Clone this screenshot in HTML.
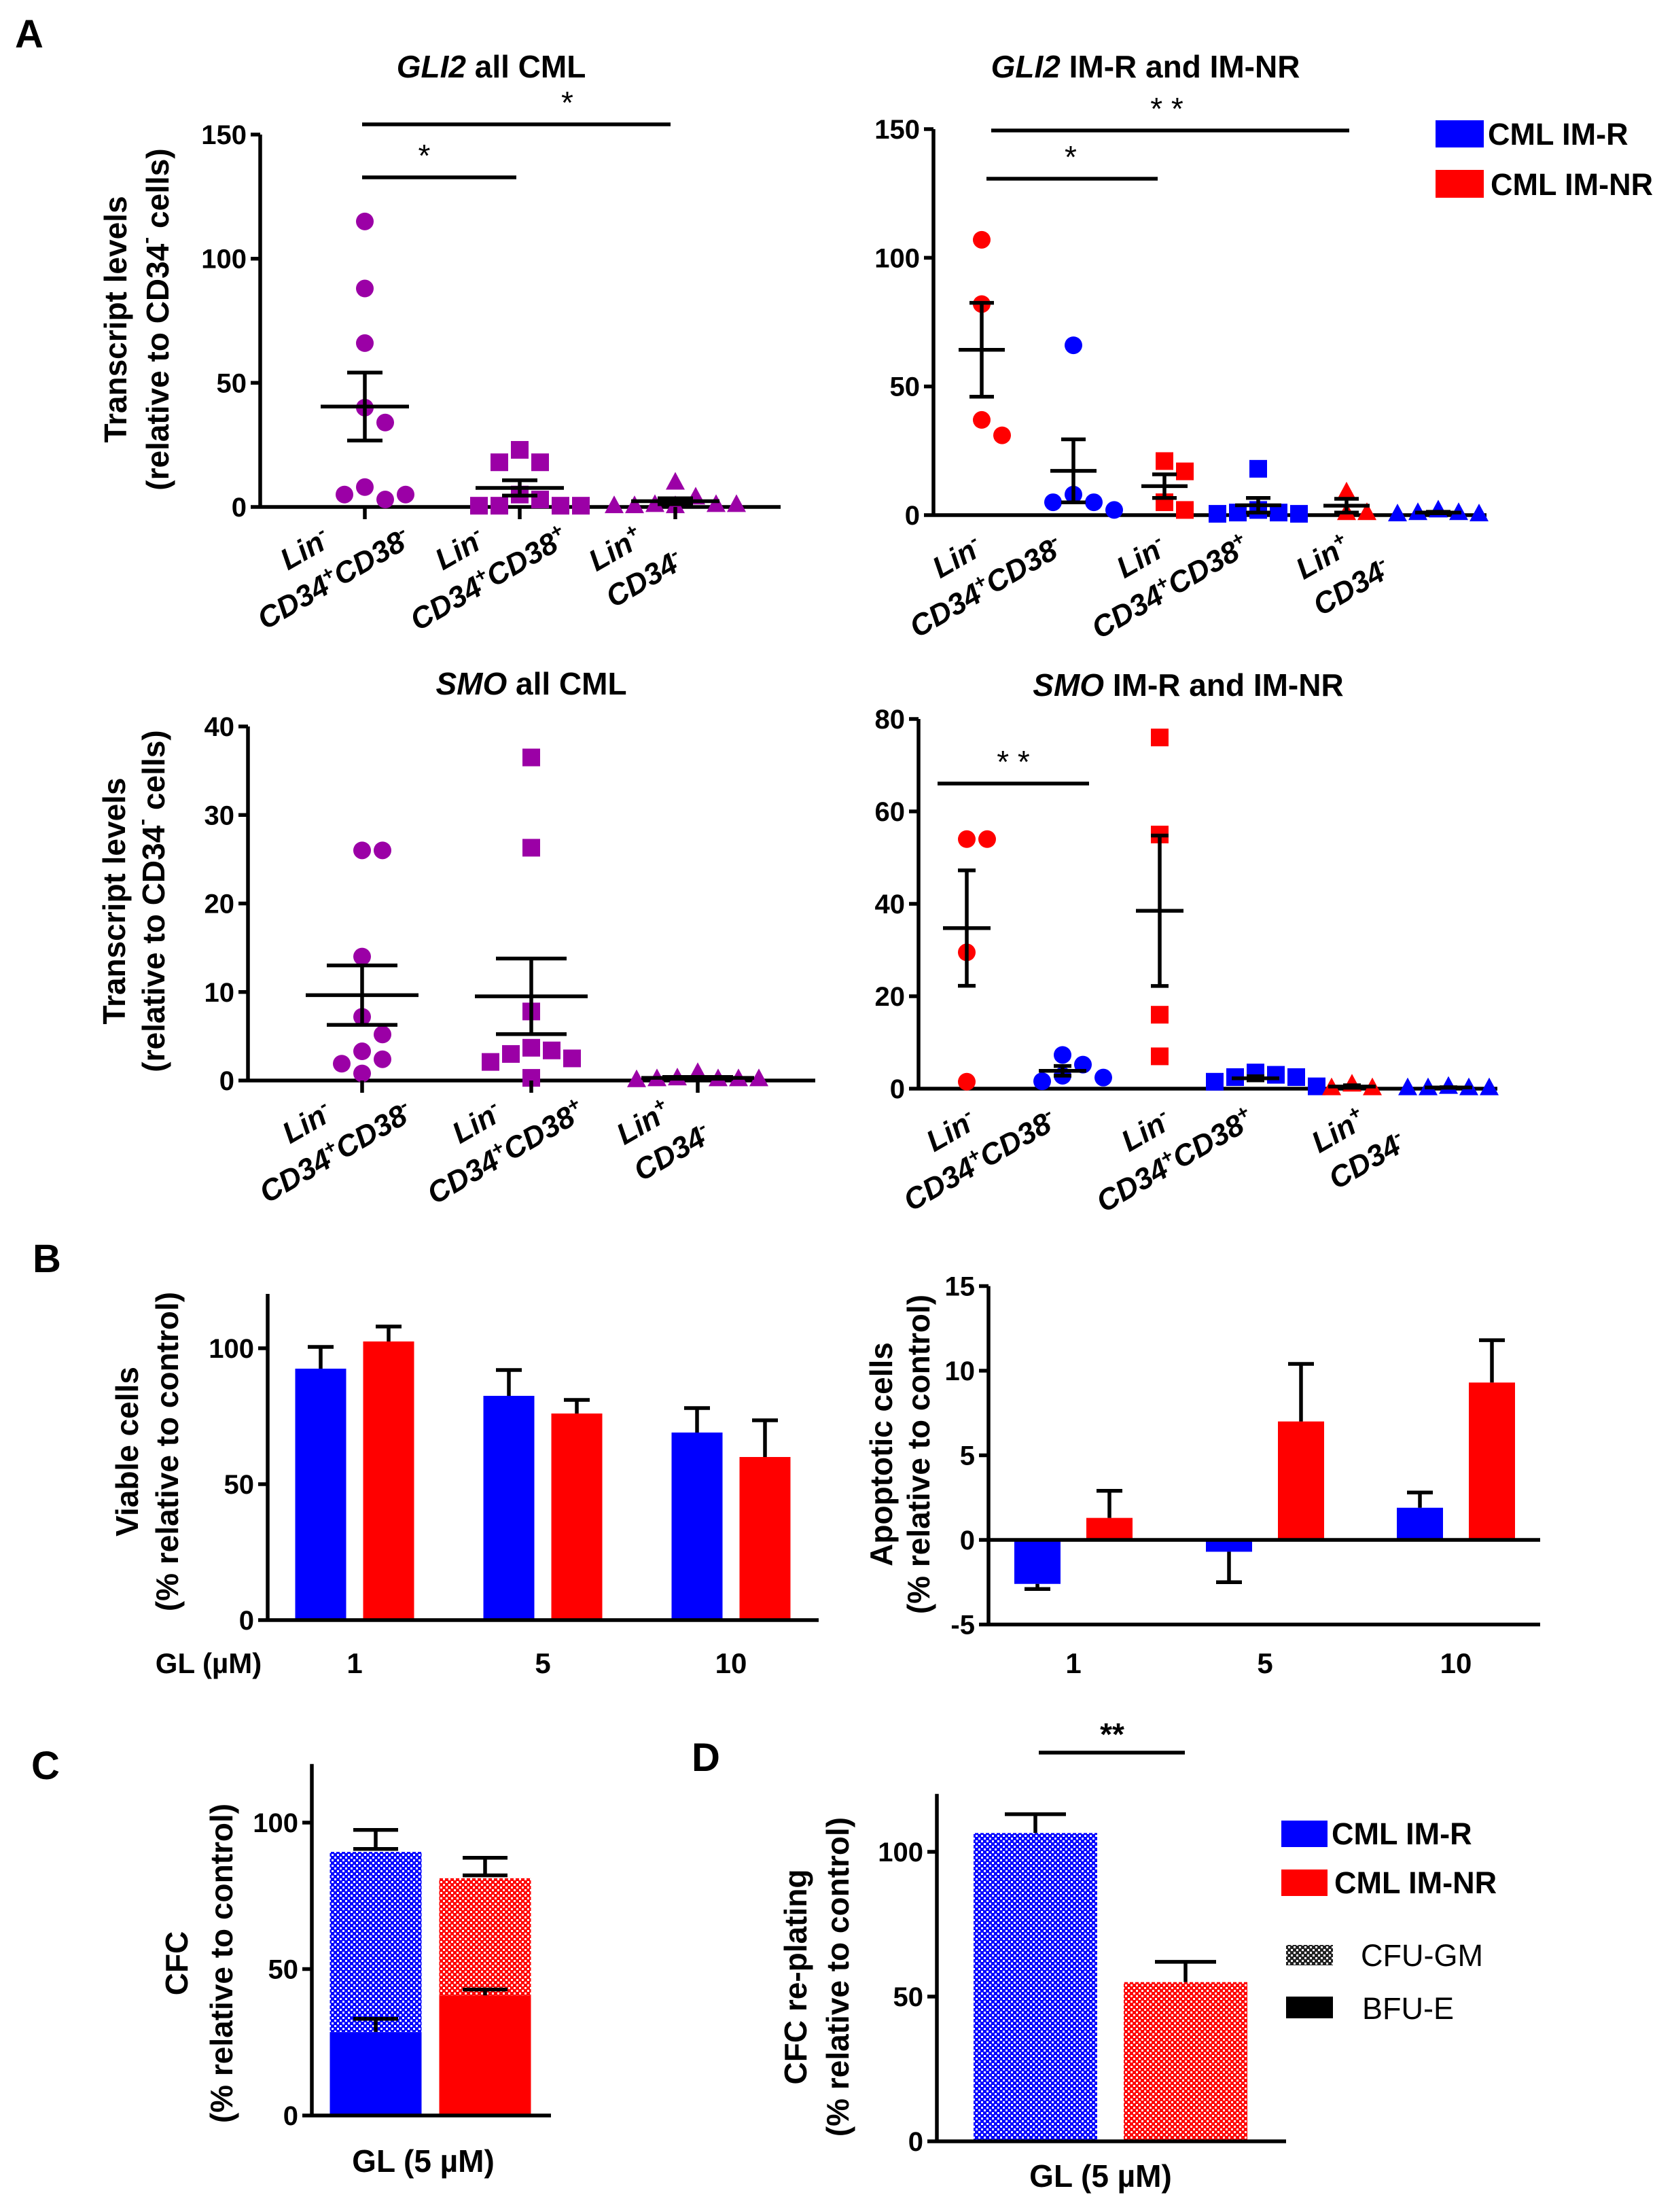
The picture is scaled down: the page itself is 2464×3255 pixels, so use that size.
<!DOCTYPE html>
<html><head><meta charset="utf-8"><title>GLI2 / SMO figure</title>
<style>
html,body{margin:0;padding:0;background:#fff;}
svg{display:block;font-family:"Liberation Sans",Arial,sans-serif;}
</style></head>
<body>
<svg id="fig" xmlns="http://www.w3.org/2000/svg" width="2464" height="3255" viewBox="0 0 2464 3255">
<defs>
<pattern id="chkBlue" width="8" height="8" patternUnits="userSpaceOnUse"><rect width="8" height="8" fill="#0000ff"/><rect width="3" height="3" fill="#fff"/><rect x="4" y="4" width="3" height="3" fill="#fff"/></pattern>
<pattern id="chkRed" width="8" height="8" patternUnits="userSpaceOnUse"><rect width="8" height="8" fill="#ff0000"/><rect width="3" height="3" fill="#fff"/><rect x="4" y="4" width="3" height="3" fill="#fff"/></pattern>
<pattern id="chkBlack" width="8" height="8" patternUnits="userSpaceOnUse"><rect width="8" height="8" fill="#222"/><rect width="3" height="3" fill="#fff"/><rect x="4" y="4" width="3" height="3" fill="#fff"/></pattern>
</defs>
</svg>
<script>
// ===== Data =====
const cats3 = ['Lin{-}|CD34{+}CD38{-}', 'Lin{-}|CD34{+}CD38{+}', 'Lin{+}|CD34{-}'];
const gli2AllValues = [[115, 88, 66, 40, 34, 8, 3, 5, 5], [23, 18, 18, 5, 3, 0.5, 0.5, 0.5, 0.5], [10, 4, 0.5, 1, 1, 0.5, 1, 0.5]];
const gli2ImValues = [[107, 82, 37, 31], [66, 8, 5, 5, 2], [21, 17, 5, 2], [18, 2, 1, 1, 0.5, 0.5], [9, 1, 1], [2, 1, 1, 0.5, 0.5]];
const smoAllValues = [[26, 26, 14, 7.2, 5.2, 3.3, 2.4, 1.9, 0.8], [36.5, 26.3, 7.8, 3.7, 3.4, 3, 2.5, 2.1, 0.3], [0.9, 0.2, 0.3, 0.2, 0.2, 0.2, 0.1]];
const smoImValues = [[54, 54, 29.5, 1.5], [7.3, 5.2, 2.8, 1.6, 2.4], [76, 55, 16, 7], [3.5, 3, 2.5, 2.5, 1.5, 0.5], [1, 0.2, 0.2], [0.5, 0.2, 0.2, 0.2, 0.2]];
const gli2Ticks = [0, 50, 100, 150];
const smoAllTicks = [0, 10, 20, 30, 40];
const smoImTicks = [0, 20, 40, 60, 80];

const doses = ['1', '5', '10'];
const viableIMR = [92.5, 82.5, 69];
const viableIMRerr = [8, 9.5, 9];
const viableIMNR = [102.5, 76, 60];
const viableIMNRerr = [5.5, 5, 13.5];
const viableTicks = [0, 50, 100];
const apopIMR = [-2.6, -0.7, 1.9];
const apopIMRerr = [0.3, 1.8, 0.9];
const apopIMNR = [1.3, 7.0, 9.3];
const apopIMNRerr = [1.6, 3.4, 2.5];
const apopTicks = [-5, 0, 5, 10, 15];

const cfcBFU = [28.5, 41];
const cfcBFUerr = [4.5, 2];
const cfcTotal = [90, 81];
const cfcTotalErr = [7.5, 7];
const cfcTicks = [0, 50, 100];
const replate = [106.5, 55];
const replateErr = [6.5, 7];
const replateTicks = [0, 50, 100];

// ===== Helpers =====
const NS = 'http://www.w3.org/2000/svg';
const svg = document.getElementById('fig');
const BLUE = '#0000ff', RED = '#ff0000', PURPLE = '#9b00a6';
const SW = 5.5;
function mk(tag, attrs, parent) {
  const e = document.createElementNS(NS, tag);
  for (const k in attrs) e.setAttribute(k, attrs[k]);
  (parent || svg).appendChild(e);
  return e;
}
function line(x1, y1, x2, y2, w, name, parent) {
  const l = mk('line', {x1: x1, y1: y1, x2: x2, y2: y2, stroke: '#000', 'stroke-width': w}, parent);
  
  
  return l;
}
function txt(x, y, s, size, opts, name, parent) {
  const o = opts || {};
  const t = mk('text', {x: x, y: y, 'font-size': size, 'font-weight': o.weight || 'bold', 'text-anchor': o.anchor || 'start', fill: '#000'}, parent);
  if (o.style) t.setAttribute('font-style', o.style);
  if (o.transform) t.setAttribute('transform', o.transform);
  if (o.baseline) t.setAttribute('dominant-baseline', o.baseline);
  
  
  addRich(t, s, size);
  return t;
}
function addRich(t, s, size) {
  const parts = s.split(/(\{[^}]*\})/);
  let sup = false;
  parts.forEach(p => {
    if (!p) return;
    const isSup = p[0] === '{';
    const ts = document.createElementNS(NS, 'tspan');
    ts.textContent = isSup ? p.slice(1, -1) : p;
    if (isSup) { ts.setAttribute('font-size', size * 0.65); ts.setAttribute('dy', -size * 0.38); sup = true; }
    else if (sup) { ts.setAttribute('dy', size * 0.38); sup = false; }
    t.appendChild(ts);
  });
}
function mean(a) { return a.reduce((s, v) => s + v, 0) / a.length; }
function sem(a) { const m = mean(a); const v = a.reduce((s, x) => s + (x - m) * (x - m), 0) / (a.length - 1); return Math.sqrt(v / a.length); }

function yAxis(p, ticks, name) {
  const g = mk('g', {});
  
  
  line(p.ax, p.y(p.axMin), p.ax, p.y(p.axMax), SW, 'y-axis-line', g);
  ticks.forEach(v => {
    line(p.ax - 14, p.y(v), p.ax, p.y(v), SW, 'y-tick', g);
    txt(p.ax - 20, p.y(v) + 14, String(v), 40, {anchor: 'end'}, 'y-tick-label', g);
  });
  return g;
}
function yTitle(x1, x2, cy, l1, l2, name) {
  txt(x1, cy, l1, 46, {anchor: 'middle', baseline: 'central', transform: 'rotate(-90 ' + x1 + ' ' + cy + ')'}, name + '-line1');
  txt(x2, cy, l2, 46, {anchor: 'middle', baseline: 'central', transform: 'rotate(-90 ' + x2 + ' ' + cy + ')'}, name + '-line2');
}
function catLabel(x, y0, label, name) {
  const g = mk('g', {transform: 'translate(' + (x - 88) + ',' + (y0 + 62) + ') rotate(-30)'});
  
  
  const ls = label.split('|');
  txt(0, 15, ls[0], 44, {anchor: 'middle', style: 'italic'}, 'category-label-line1', g);
  txt(15, 74, ls[1], 44, {anchor: 'middle', style: 'italic'}, 'category-label-line2', g);
}
function marker(shape, cx, cy, color, parent) {
  let m;
  if (shape === 'circle') m = mk('circle', {cx: cx, cy: cy, r: 13, fill: color}, parent);
  else if (shape === 'square') m = mk('rect', {x: cx - 13, y: cy - 13, width: 26, height: 26, fill: color}, parent);
  else m = mk('polygon', {points: (cx) + ',' + (cy - 15) + ' ' + (cx + 14) + ',' + (cy + 11) + ' ' + (cx - 14) + ',' + (cy + 11), fill: color}, parent);
  return m;
}
function swarm(vals, cx, y) {
  const placed = [];
  const xs = [];
  vals.forEach((v, i) => {
    const py = y(v);
    let k = 0, px = cx;
    while (true) {
      const off = k === 0 ? 0 : (k % 2 ? 1 : -1) * Math.ceil(k / 2) * 30;
      px = cx + off;
      const hit = placed.some(q => Math.hypot(q[0] - px, q[1] - py) < 28);
      if (!hit) break;
      k++;
      if (k > 12) break;
    }
    placed.push([px, py]);
    xs[i] = px;
  });
  return xs;
}
function scatterPanel(p, values, cats, name) {
  p.y = v => p.y0 - v * (p.y0 - p.yTop) / p.max;
  p.axMin = 0; p.axMax = p.max;
  const g = mk('g', {});
  
  
  yAxis(p, p.ticks, name + '-y-axis');
  line(p.ax, p.y0, p.xEnd, p.y0, SW, 'x-axis-line', g);
  values.forEach((vals, gi) => {
    const cx = p.catX[gi];
    const color = p.colors[gi];
    const shape = p.shapes[gi];
    const xs = swarm(vals, cx, p.y);
    const grp = mk('g', {}, g);
    
    
    vals.forEach((v, i) => {
      const m = marker(shape, xs[i], p.y(v), color, grp);
      
      
    });
    const m = mean(vals), s = sem(vals);
    line(cx - p.mh, p.y(m), cx + p.mh, p.y(m), SW, 'mean-line', grp);
    line(cx, p.y(m + s), cx, p.y(Math.max(0, m - s)), SW, 'sem-bar', grp);
    line(cx - p.ch, p.y(m + s), cx + p.ch, p.y(m + s), SW, 'sem-cap-upper', grp);
    if (m - s > 0) line(cx - p.ch, p.y(m - s), cx + p.ch, p.y(m - s), SW, 'sem-cap-lower', grp);
    if (p.xticks) line(cx, p.y0, cx, p.y0 + 18, SW, 'x-tick', grp);
  });
  cats.forEach((c, i) => catLabel(p.labelX[i], p.y0, c, 'category-label'));
  (p.sig || []).forEach(s => {
    line(s[0], s[2], s[1], s[2], SW, 'significance-bar', g);
    txt((s[0] + s[1]) / 2 + (s[4] || 0), s[2] - 16, s[3], 46, {anchor: 'middle', weight: 'normal'}, 'significance-stars', g);
  });
}
function italicTitle(x, y, it, rest, name) {
  const t = txt(x, y, '', 46, {anchor: 'middle'}, name);
  const a = document.createElementNS(NS, 'tspan'); a.setAttribute('font-style', 'italic'); a.textContent = it; t.appendChild(a);
  const b = document.createElementNS(NS, 'tspan'); b.textContent = rest; t.appendChild(b);
}

// ===== Panel letters =====
txt(22, 70, 'A', 58, {}, 'panel-label-a');
txt(48, 1872, 'B', 58, {}, 'panel-label-b');
txt(46, 2618, 'C', 58, {}, 'panel-label-c');
txt(1018, 2606, 'D', 58, {}, 'panel-label-d');

// ===== A: GLI2 all CML =====
italicTitle(723, 114, 'GLI2', ' all CML', 'gli2-all-title');
yTitle(170, 232, 470, 'Transcript levels', '(relative to CD34{-} cells)', 'gli2-y-title');
scatterPanel({ax: 383, y0: 746, yTop: 198, max: 150, ticks: gli2Ticks, xEnd: 1149, catX: [537, 765, 994], labelX: [537, 765, 994],
  colors: [PURPLE, PURPLE, PURPLE], shapes: ['circle', 'square', 'triangle'], mh: 65, ch: 26, xticks: true,
  sig: [[533, 987, 183, '*', 75], [533, 760, 261, '*', -22]]}, gli2AllValues, cats3, 'gli2-all-chart');

// ===== A: GLI2 IM-R and IM-NR =====
italicTitle(1686, 114, 'GLI2', ' IM-R and IM-NR', 'gli2-im-title');
scatterPanel({ax: 1374, y0: 758, yTop: 190, max: 150, ticks: gli2Ticks, xEnd: 2188, catX: [1445, 1580, 1714, 1852, 1982, 2117], labelX: [1497, 1768, 2035],
  colors: [RED, BLUE, RED, BLUE, RED, BLUE], shapes: ['circle', 'circle', 'square', 'square', 'triangle', 'triangle'], mh: 34, ch: 18,
  sig: [[1459, 1986, 192, '* *', -5], [1452, 1704, 263, '*', -2]]}, gli2ImValues, cats3, 'gli2-im-chart');
(function () {
  const g = mk('g', {});
  
  
  const r1 = mk('rect', {x: 2113, y: 177, width: 71, height: 40, fill: BLUE}, g);
  
  
  txt(2190, 213, 'CML IM-R', 45, {}, 'legend-label-im-r', g);
  const r2 = mk('rect', {x: 2113, y: 250, width: 71, height: 41, fill: RED}, g);
  
  
  txt(2194, 287, 'CML IM-NR', 45, {}, 'legend-label-im-nr', g);
})();

// ===== A: SMO all CML =====
italicTitle(782, 1022, 'SMO', ' all CML', 'smo-all-title');
yTitle(168, 226, 1326, 'Transcript levels', '(relative to CD34{-} cells)', 'smo-y-title');
scatterPanel({ax: 365, y0: 1590, yTop: 1069, max: 40, ticks: smoAllTicks, xEnd: 1200, catX: [533, 782, 1027], labelX: [540, 790, 1035],
  colors: [PURPLE, PURPLE, PURPLE], shapes: ['circle', 'square', 'triangle'], mh: 83, ch: 52, xticks: true}, smoAllValues, cats3, 'smo-all-chart');

// ===== A: SMO IM-R and IM-NR =====
italicTitle(1749, 1024, 'SMO', ' IM-R and IM-NR', 'smo-im-title');
scatterPanel({ax: 1352, y0: 1602, yTop: 1058, max: 80, ticks: smoImTicks, xEnd: 2204, catX: [1423, 1564, 1707, 1848, 1990, 2132], labelX: [1488, 1775, 2058],
  colors: [RED, BLUE, RED, BLUE, RED, BLUE], shapes: ['circle', 'circle', 'square', 'square', 'triangle', 'triangle'], mh: 35, ch: 13,
  sig: [[1380, 1603, 1153, '* *', 0]]}, smoImValues, cats3, 'smo-im-chart');

// ===== Bar helpers =====
function barPanel(p, series, name) {
  p.y = v => p.y0 - v * p.k;
  const g = mk('g', {});
  
  
  series.forEach(s => {
    s.vals.forEach((v, i) => {
      const cx = p.groupX[i] + s.off;
      const top = Math.min(p.y(v), p.y(0)), h = Math.abs(p.y(v) - p.y(0));
      const r = mk('rect', {x: cx - p.bw / 2, y: top, width: p.bw, height: h, fill: s.color}, g);
      
      
      const e = v >= 0 ? v + s.err[i] : v - s.err[i];
      line(cx, p.y(v), cx, p.y(e), SW, 'error-bar', g);
      line(cx - p.ch, p.y(e), cx + p.ch, p.y(e), SW, 'error-cap', g);
    });
  });
  return g;
}

// ===== B: viable =====
(function () {
  const p = {ax: 394, y0: 2384, k: 4.0, axMin: 0, axMax: 120};
  p.y = v => p.y0 - v * p.k;
  yAxis(p, viableTicks, 'viable-y-axis');
  barPanel({y0: 2384, k: 4.0, groupX: [522, 799, 1076], bw: 75, ch: 19}, [
    {vals: viableIMR, err: viableIMRerr, color: BLUE, off: -50, name: 'viable-im-r'},
    {vals: viableIMNR, err: viableIMNRerr, color: RED, off: 50, name: 'viable-im-nr'}], 'viable-bars');
  line(394, 2384, 1205, 2384, SW, 'viable-x-axis');
  txt(307, 2462, 'GL (µM)', 42, {anchor: 'middle'}, 'viable-x-title');
  doses.forEach((d, i) => txt([522, 799, 1076][i], 2462, d, 42, {anchor: 'middle'}, 'viable-dose-label'));
  yTitle(187, 246, 2136, 'Viable cells', '(% relative to control)', 'viable-y-title');
})();

// ===== B: apoptotic =====
(function () {
  const k = (2266 - 2017) / 10;
  const p = {ax: 1455, y0: 2266, k: k, axMin: -5, axMax: 15};
  p.y = v => p.y0 - v * p.k;
  yAxis(p, apopTicks, 'apoptotic-y-axis');
  barPanel({y0: 2266, k: k, groupX: [1580, 1862, 2143], bw: 68, ch: 19}, [
    {vals: apopIMR, err: apopIMRerr, color: BLUE, off: -53, name: 'apoptotic-im-r'},
    {vals: apopIMNR, err: apopIMNRerr, color: RED, off: 53, name: 'apoptotic-im-nr'}], 'apoptotic-bars');
  line(1455, p.y(0), 2267, p.y(0), SW, 'apoptotic-zero-line');
  line(1455, p.y(-5), 2267, p.y(-5), SW, 'apoptotic-x-axis');
  doses.forEach((d, i) => txt([1580, 1862, 2143][i], 2462, d, 42, {anchor: 'middle'}, 'apoptotic-dose-label'));
  yTitle(1297, 1352, 2140, 'Apoptotic cells', '(% relative to control)', 'apoptotic-y-title');
})();

// ===== C: CFC stacked =====
(function () {
  const k = (3113 - 2682) / 100;
  const p = {ax: 459, y0: 3113, k: k, axMin: 0, axMax: 120};
  p.y = v => p.y0 - v * p.k;
  yAxis(p, cfcTicks, 'cfc-y-axis');
  const xs = [553, 714], cols = [BLUE, RED], pats = ['url(#chkBlue)', 'url(#chkRed)'], bw = 135, ch = 33;
  cfcTotal.forEach((tot, i) => {
    const top = mk('rect', {x: xs[i] - bw / 2, y: p.y(tot), width: bw, height: p.y(cfcBFU[i]) - p.y(tot), fill: pats[i]});
    
    
    const bot = mk('rect', {x: xs[i] - bw / 2, y: p.y(cfcBFU[i]), width: bw, height: p.y(0) - p.y(cfcBFU[i]), fill: cols[i]});
    
    
    const e = tot + cfcTotalErr[i];
    line(xs[i], p.y(tot + 1), xs[i], p.y(e), SW, 'cfc-error-bar');
    line(xs[i] - ch, p.y(e), xs[i] + ch, p.y(e), SW, 'cfc-error-cap');
    line(xs[i] - ch, p.y(tot + 1), xs[i] + ch, p.y(tot + 1), SW, 'cfc-error-cap');
    const e2 = cfcBFU[i] + cfcBFUerr[i];
    line(xs[i], p.y(cfcBFU[i]), xs[i], p.y(e2), SW, 'cfc-bfu-error-bar');
    line(xs[i] - ch, p.y(e2), xs[i] + ch, p.y(e2), SW, 'cfc-bfu-error-cap');
  });
  line(459, 3113, 811, 3113, SW, 'cfc-x-axis');
  txt(623, 3196, 'GL (5 µM)', 46, {anchor: 'middle'}, 'cfc-x-title');
  yTitle(260, 326, 2889, 'CFC', '(% relative to control)', 'cfc-y-title');
})();

// ===== D: CFC re-plating =====
(function () {
  const k = (3151 - 2725) / 100;
  const p = {ax: 1379, y0: 3151, k: k, axMin: 0, axMax: 120};
  p.y = v => p.y0 - v * p.k;
  yAxis(p, replateTicks, 'replate-y-axis');
  const xs = [1524, 1745], pats = ['url(#chkBlue)', 'url(#chkRed)'], bw = 182, ch = 45;
  replate.forEach((v, i) => {
    const r = mk('rect', {x: xs[i] - bw / 2, y: p.y(v), width: bw, height: p.y(0) - p.y(v), fill: pats[i]});
    
    
    const e = v + replateErr[i];
    line(xs[i], p.y(v), xs[i], p.y(e), SW, 'replate-error-bar');
    line(xs[i] - ch, p.y(e), xs[i] + ch, p.y(e), SW, 'replate-error-cap');
  });
  line(1379, 3151, 1893, 3151, SW, 'replate-x-axis');
  line(1529, 2579, 1744, 2579, SW, 'replate-significance-bar');
  txt(1637, 2568, '**', 46, {anchor: 'middle'}, 'replate-significance-stars');
  txt(1620, 3218, 'GL (5 µM)', 46, {anchor: 'middle'}, 'replate-x-title');
  yTitle(1171, 1233, 2909, 'CFC re-plating', '(% relative to control)', 'replate-y-title');
  const lg = mk('g', {});
  
  
  const s1 = mk('rect', {x: 1886, y: 2679, width: 68, height: 39, fill: BLUE}, lg);
  
  
  txt(1960, 2714, 'CML IM-R', 45, {}, 'legend-label-im-r', lg);
  const s2 = mk('rect', {x: 1886, y: 2751, width: 68, height: 39, fill: RED}, lg);
  
  
  txt(1964, 2786, 'CML IM-NR', 45, {}, 'legend-label-im-nr', lg);
  const s3 = mk('rect', {x: 1893, y: 2862, width: 69, height: 30, fill: 'url(#chkBlack)'}, lg);
  
  
  txt(2003, 2893, 'CFU-GM', 45, {weight: 'normal'}, 'legend-label-cfu-gm', lg);
  const s4 = mk('rect', {x: 1893, y: 2938, width: 69, height: 32, fill: '#000'}, lg);
  
  
  txt(2005, 2971, 'BFU-E', 45, {weight: 'normal'}, 'legend-label-bfu-e', lg);
})();
</script>
</body></html>
